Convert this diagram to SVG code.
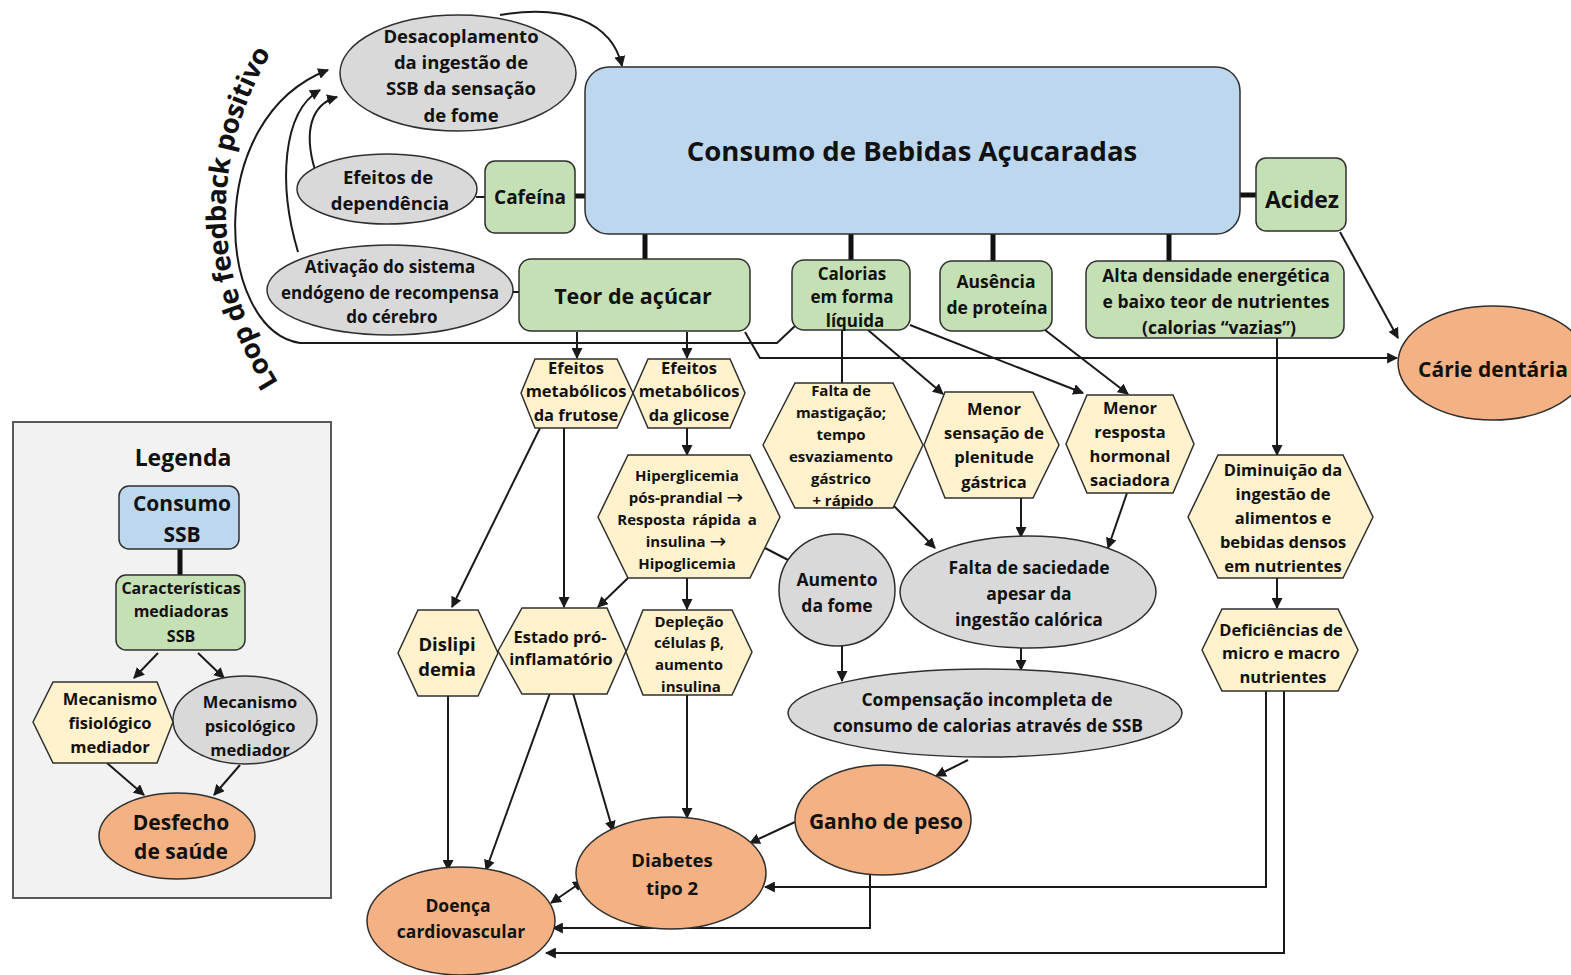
<svg xmlns="http://www.w3.org/2000/svg" width="1571" height="975" viewBox="0 0 1571 975">
<defs>
<marker id="ah" viewBox="0 0 10 10" refX="9" refY="5" markerWidth="11" markerHeight="11" markerUnits="userSpaceOnUse" orient="auto-start-reverse"><path d="M0,0 L10,5 L0,10 z" fill="#1a1a1a"/></marker>
<path id="loopPath" d="M 270 390 Q 164 218 262 46"/>
</defs>
<style>
text{font-family:"Open Sans","Noto Sans","Liberation Sans",sans-serif;font-weight:bold;fill:#111;text-anchor:middle;dominant-baseline:central}
.arr{font-family:"DejaVu Sans","Liberation Sans",sans-serif;font-weight:normal;font-size:20px}
.blue{fill:#bdd7ee;stroke:#2f2f2f;stroke-width:1.5}
.green{fill:#c5e0b4;stroke:#2f2f2f;stroke-width:1.5}
.hex{fill:#fff2cc;stroke:#2f2f2f;stroke-width:1.5}
.gray{fill:#d9d9d9;stroke:#2f2f2f;stroke-width:1.5}
.org{fill:#f4b183;stroke:#2f2f2f;stroke-width:1.5}
.c{fill:none;stroke:#1a1a1a;stroke-width:2}
.a{fill:none;stroke:#1a1a1a;stroke-width:2;marker-end:url(#ah)}
.thick{fill:none;stroke:#111;stroke-width:5}
</style>

<!-- loop label -->
<text font-size="27"><textPath href="#loopPath" startOffset="50%" textLength="360" lengthAdjust="spacingAndGlyphs">Loop de feedback positivo</textPath></text>

<!-- connectors -->
<g id="connectors">
<line class="thick" x1="645" y1="234" x2="645" y2="259"/>
<line class="thick" x1="851" y1="234" x2="851" y2="260"/>
<line class="thick" x1="993" y1="234" x2="993" y2="261"/>
<line class="thick" x1="1169" y1="234" x2="1169" y2="261"/>
<line class="thick" x1="575" y1="196" x2="586" y2="196"/>
<line class="thick" x1="1240" y1="195" x2="1257" y2="195"/>
<line class="c" x1="476" y1="197" x2="485" y2="197"/>
<line class="c" x1="512" y1="292" x2="519" y2="292"/>
<path class="a" d="M 500 15 C 565 4 612 22 622 66"/>
<path class="a" d="M 795 326 L 777 343 L 300 343 C 216 330 202 118 328 70"/>
<path class="a" d="M 298 252 C 278 185 282 112 320 90"/>
<path class="a" d="M 315 170 C 303 130 312 104 337 97"/>
<path class="a" d="M 745 332 L 760 358 L 1397 358"/>
<line class="a" x1="1340" y1="232" x2="1398" y2="338"/>
<line class="a" x1="577" y1="332" x2="577" y2="358"/>
<line class="a" x1="687" y1="332" x2="687" y2="358"/>
<line class="a" x1="687" y1="428" x2="687" y2="455"/>
<line class="a" x1="540" y1="428" x2="452" y2="607"/>
<line class="a" x1="564" y1="428" x2="564" y2="607"/>
<line class="a" x1="628" y1="578" x2="598" y2="607"/>
<line class="a" x1="687" y1="578" x2="687" y2="609"/>
<line class="c" x1="765" y1="548" x2="792" y2="562"/>
<line class="c" x1="842" y1="330" x2="842" y2="383"/>
<line class="a" x1="868" y1="330" x2="943" y2="394"/>
<line class="a" x1="910" y1="325" x2="1083" y2="393"/>
<line class="a" x1="1045" y1="330" x2="1128" y2="394"/>
<line class="a" x1="894" y1="506" x2="935" y2="548"/>
<line class="a" x1="1021" y1="498" x2="1021" y2="537"/>
<line class="a" x1="1127" y1="493" x2="1108" y2="548"/>
<line class="a" x1="1277" y1="338" x2="1277" y2="455"/>
<line class="a" x1="1277" y1="578" x2="1277" y2="608"/>
<line class="a" x1="842" y1="645" x2="842" y2="681"/>
<line class="a" x1="1021" y1="648" x2="1021" y2="670"/>
<line class="a" x1="968" y1="760" x2="936" y2="776"/>
<line class="a" x1="795" y1="822" x2="750" y2="843"/>
<path class="a" d="M 870 875 L 870 928 L 553 928"/>
<path class="a" d="M 1266 691 L 1266 887 L 765 887"/>
<path class="a" d="M 1284 691 L 1284 953 L 546 953"/>
<line class="a" x1="448" y1="696" x2="448" y2="870"/>
<line class="a" x1="550" y1="693" x2="486" y2="870"/>
<line class="a" x1="573" y1="693" x2="613" y2="831"/>
<line class="a" x1="687" y1="695" x2="687" y2="818"/>
<line class="a" x1="583" y1="881" x2="551" y2="903" marker-start="url(#ah)"/>
</g>

<g id="n-consumo"><rect class="blue" x="585" y="67" width="655" height="167" rx="24"/><text x="912" y="150" font-size="27.5">Consumo de Bebidas Açucaradas</text></g>
<g id="n-desacoplamento"><ellipse class="gray" cx="458" cy="73" rx="118" ry="58"/><text font-size="18.5"><tspan x="461" y="35">Desacoplamento</tspan><tspan x="461" y="61">da ingestão de</tspan><tspan x="461" y="87">SSB da sensação</tspan><tspan x="461" y="114">de fome</tspan></text></g>
<g id="n-dependencia"><ellipse class="gray" cx="387" cy="189" rx="90" ry="35"/><text font-size="18.5"><tspan x="388" y="176">Efeitos de</tspan><tspan x="390" y="202">dependência</tspan></text></g>
<g id="n-cafeina"><rect class="green" x="485" y="161" width="90" height="72" rx="10"/><text x="530" y="197" font-size="19">Cafeína</text></g>
<g id="n-ativacao"><ellipse class="gray" cx="390" cy="290" rx="123" ry="45"/><text font-size="17"><tspan x="390" y="266">Ativação  do sistema</tspan><tspan x="390" y="292">endógeno de recompensa</tspan><tspan x="392" y="316">do cérebro</tspan></text></g>
<g id="n-teor"><rect class="green" x="519" y="259" width="231" height="72" rx="12"/><text x="633" y="295" font-size="21.5">Teor de açúcar</text></g>
<g id="n-calorias"><rect class="green" x="792" y="260" width="118" height="70" rx="12"/><text font-size="17"><tspan x="852" y="273">Calorias</tspan><tspan x="852" y="296">em forma</tspan><tspan x="855" y="320">líquida</tspan></text></g>
<g id="n-ausencia"><rect class="green" x="940" y="261" width="112" height="70" rx="12"/><text font-size="17.5"><tspan x="996" y="281">Ausência</tspan><tspan x="997" y="307">de proteína</tspan></text></g>
<g id="n-alta"><rect class="green" x="1086" y="261" width="258" height="77" rx="12"/><text font-size="17.5"><tspan x="1216" y="275">Alta densidade energética</tspan><tspan x="1216" y="301">e baixo teor de nutrientes</tspan><tspan x="1219" y="327">(calorias “vazias”)</tspan></text></g>
<g id="n-acidez"><rect class="green" x="1256" y="158" width="90" height="73" rx="10"/><text x="1302" y="199" font-size="23">Acidez</text></g>
<g id="n-carie"><ellipse class="org" cx="1493" cy="363" rx="95" ry="57"/><text x="1493" y="369" font-size="21">Cárie dentária</text></g>

<g id="n-frutose"><polygon class="hex" points="521,393 535,359 617,359 633,393 617,428 535,428"/><text font-size="16.5"><tspan x="576" y="367">Efeitos</tspan><tspan x="576" y="390">metabólicos</tspan><tspan x="576" y="414">da frutose</tspan></text></g>
<g id="n-glicose"><polygon class="hex" points="633,393 648,359 730,359 745,393 730,428 648,428"/><text font-size="16.5"><tspan x="689" y="367">Efeitos</tspan><tspan x="689" y="390">metabólicos</tspan><tspan x="689" y="414">da glicose</tspan></text></g>
<g id="n-hiperglicemia"><polygon class="hex" points="598,517 628,455 750,455 780,517 750,578 628,578"/><text font-size="15"><tspan x="687" y="475">Hiperglicemia</tspan><tspan x="686" y="497">pós-prandial <tspan class="arr">→</tspan></tspan><tspan x="687" y="519" word-spacing="3">Resposta rápida a</tspan><tspan x="686" y="541">insulina <tspan class="arr">→</tspan></tspan><tspan x="687" y="563">Hipoglicemia</tspan></text></g>
<g id="n-mastigacao"><polygon class="hex" points="763,445 795,383 893,383 923,445 893,508 795,508"/><text font-size="15"><tspan x="841" y="390">Falta de</tspan><tspan x="841" y="412">mastigação;</tspan><tspan x="841" y="434">tempo</tspan><tspan x="841" y="456">esvaziamento</tspan><tspan x="841" y="478">gástrico</tspan><tspan x="843" y="500">+ rápido</tspan></text></g>
<g id="n-plenitude"><polygon class="hex" points="924,445 945,392 1033,392 1059,445 1033,498 945,498"/><text font-size="16.5"><tspan x="994" y="408">Menor</tspan><tspan x="994" y="432">sensação de</tspan><tspan x="994" y="456">plenitude</tspan><tspan x="994" y="481">gástrica</tspan></text></g>
<g id="n-hormonal"><polygon class="hex" points="1066,444 1087,395 1173,395 1194,444 1173,493 1087,493"/><text font-size="16.5"><tspan x="1130" y="407">Menor</tspan><tspan x="1130" y="431">resposta</tspan><tspan x="1130" y="455">hormonal</tspan><tspan x="1130" y="479">saciadora</tspan></text></g>
<g id="n-diminuicao"><polygon class="hex" points="1188,517 1218,455 1343,455 1373,517 1343,578 1218,578"/><text font-size="16.5"><tspan x="1283" y="469">Diminuição da</tspan><tspan x="1283" y="493">ingestão de</tspan><tspan x="1283" y="517">alimentos e</tspan><tspan x="1283" y="541">bebidas densos</tspan><tspan x="1283" y="565">em nutrientes</tspan></text></g>
<g id="n-deficiencias"><polygon class="hex" points="1202,650 1222,609 1338,609 1358,650 1338,691 1222,691"/><text font-size="16.5"><tspan x="1281" y="629">Deficiências de</tspan><tspan x="1281" y="652">micro e macro</tspan><tspan x="1283" y="676">nutrientes</tspan></text></g>
<g id="n-dislipidemia"><polygon class="hex" points="398,653 418,610 478,610 498,653 478,696 418,696"/><text font-size="18.5"><tspan x="447" y="643">Dislipi</tspan><tspan x="447" y="668">demia</tspan></text></g>
<g id="n-inflamatorio"><polygon class="hex" points="498,651 522,608 607,608 626,651 607,694 522,694"/><text font-size="16.5"><tspan x="560" y="636">Estado pró-</tspan><tspan x="561" y="658">inflamatório</tspan></text></g>
<g id="n-deplecao"><polygon class="hex" points="626,652 643,610 732,610 752,652 732,695 643,695"/><text font-size="15"><tspan x="689" y="621">Depleção</tspan><tspan x="689" y="642">células  β,</tspan><tspan x="689" y="664">aumento</tspan><tspan x="691" y="686">insulina</tspan></text></g>

<g id="n-fome"><ellipse class="gray" cx="837" cy="590" rx="58" ry="56"/><text font-size="17.5"><tspan x="837" y="579">Aumento</tspan><tspan x="837" y="605">da fome</tspan></text></g>
<g id="n-saciedade"><ellipse class="gray" cx="1028" cy="592" rx="128" ry="56"/><text font-size="17.5"><tspan x="1029" y="567">Falta de saciedade</tspan><tspan x="1029" y="593">apesar da</tspan><tspan x="1029" y="619">ingestão calórica</tspan></text></g>
<g id="n-compensacao"><ellipse class="gray" cx="985" cy="713" rx="197" ry="44"/><text font-size="17.5"><tspan x="987" y="699">Compensação incompleta de</tspan><tspan x="988" y="725">consumo  de calorias através de SSB</tspan></text></g>
<g id="n-ganho"><ellipse class="org" cx="883" cy="820" rx="88" ry="55"/><text x="886" y="821" font-size="21">Ganho de peso</text></g>
<g id="n-diabetes"><ellipse class="org" cx="671" cy="873" rx="95" ry="56"/><text font-size="18.5"><tspan x="672" y="859">Diabetes</tspan><tspan x="672" y="887">tipo 2</tspan></text></g>
<g id="n-cardio"><ellipse class="org" cx="461" cy="921" rx="94" ry="54"/><text font-size="17.5"><tspan x="458" y="905">Doença</tspan><tspan x="461" y="931">cardiovascular</tspan></text></g>

<g id="legend">
<rect x="13" y="422" width="318" height="476" fill="#f2f2f2" stroke="#595959" stroke-width="2"/>
<text x="183" y="457" font-size="23">Legenda</text>
<line class="thick" x1="180" y1="549" x2="180" y2="575"/>
<line class="a" x1="158" y1="653" x2="134" y2="678"/>
<line class="a" x1="198" y1="653" x2="224" y2="678"/>
<line class="a" x1="107" y1="763" x2="144" y2="795"/>
<line class="a" x1="240" y1="765" x2="214" y2="795"/>
<g id="lg-consumo"><rect class="blue" x="119" y="486" width="120" height="63" rx="10"/><text font-size="21"><tspan x="182" y="503">Consumo</tspan><tspan x="182" y="534">SSB</tspan></text></g>
<g id="lg-caracteristicas"><rect class="green" x="116" y="575" width="129" height="75" rx="10"/><text font-size="16"><tspan x="181" y="588">Características</tspan><tspan x="181" y="611">mediadoras</tspan><tspan x="181" y="636">SSB</tspan></text></g>
<g id="lg-fisiologico"><polygon class="hex" points="33,722 53,682 157,682 173,722 157,763 53,763"/><text font-size="16.5"><tspan x="110" y="698">Mecanismo</tspan><tspan x="110" y="722">fisiológico</tspan><tspan x="110" y="746">mediador</tspan></text></g>
<g id="lg-psicologico"><ellipse class="gray" cx="245" cy="720" rx="72" ry="44"/><text font-size="16.5"><tspan x="250" y="701">Mecanismo</tspan><tspan x="250" y="725">psicológico</tspan><tspan x="250" y="749">mediador</tspan></text></g>
<g id="lg-desfecho"><ellipse class="org" cx="177" cy="836" rx="78" ry="43"/><text font-size="21"><tspan x="181" y="822">Desfecho</tspan><tspan x="181" y="851">de saúde</tspan></text></g>
</g>
</svg>
